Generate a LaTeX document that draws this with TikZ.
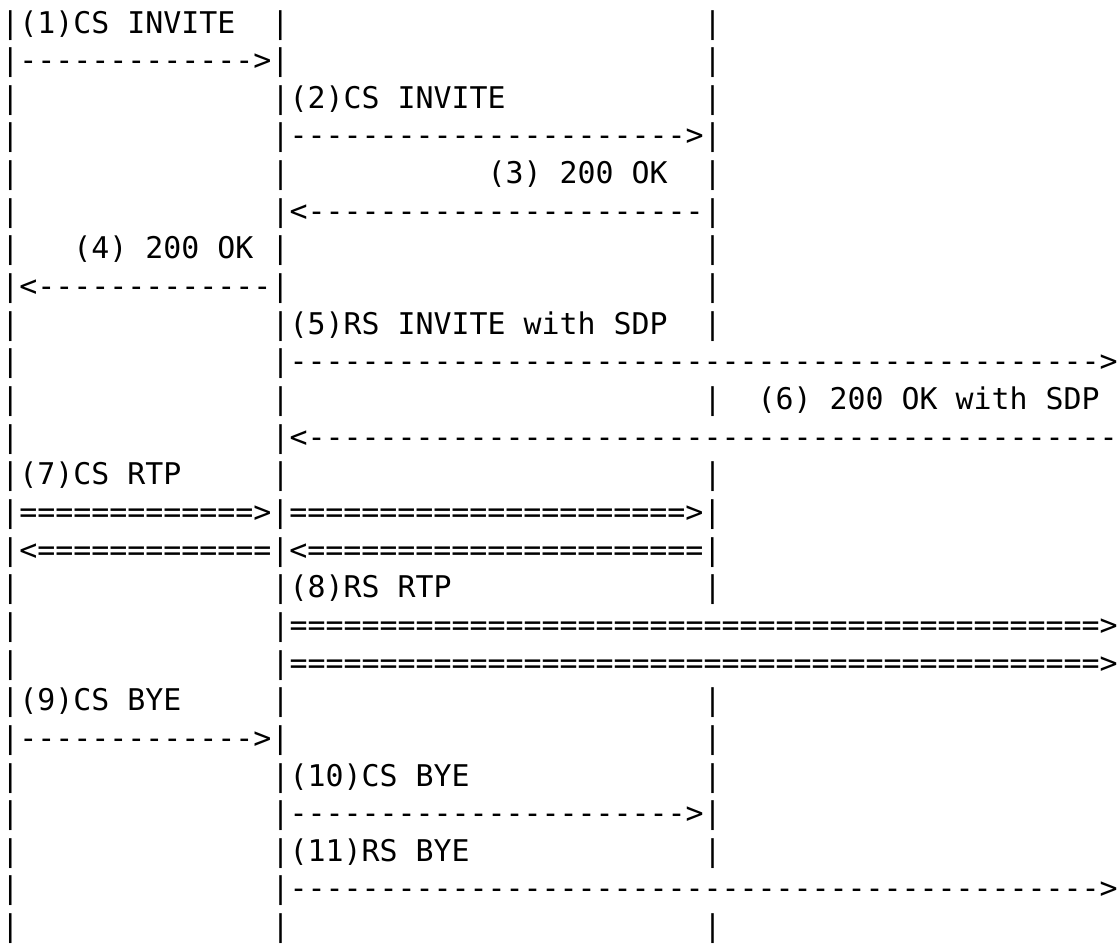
\documentclass[tikz,border=0pt]{standalone}
\usepackage{fontspec}
\newfontfamily\zzmono[Ligatures={TeXOff,CommonOff}]{DejaVu Sans Mono}
\ExplSyntaxOn
\cs_new:Npn \zzr #1#2 { \prg_replicate:nn {#1} {#2} }
\ExplSyntaxOff
\begin{document}
\begin{tikzpicture}[x=1pt,y=1pt,
  ln/.style={anchor=base west, inner sep=0pt, outer sep=0pt,
    font=\zzmono\fontsize{29.9pt}{37.65pt}\selectfont\frenchspacing}]
\fill[white] (0,0) rectangle (1117,-945);
\useasboundingbox (0,0) rectangle (1117,-945);
\node[ln] (l1)  at (1.5,-33)     {|(1)CS~INVITE~~|\zzr{23}{~}|};
\node[ln] (l2)  at (1.5,-70.65)  {|\zzr{13}{-}>|\zzr{23}{~}|};
\node[ln] (l3)  at (1.5,-108.3)  {|\zzr{14}{~}|(2)CS~INVITE\zzr{11}{~}|};
\node[ln] (l4)  at (1.5,-145.95) {|\zzr{14}{~}|\zzr{22}{-}>|};
\node[ln] (l5)  at (1.5,-183.6)  {|\zzr{14}{~}|\zzr{11}{~}(3)~200~OK~~|};
\node[ln] (l6)  at (1.5,-221.25) {|\zzr{14}{~}|<\zzr{22}{-}|};
\node[ln] (l7)  at (1.5,-258.9)  {|~~~(4)~200~OK~|\zzr{23}{~}|};
\node[ln] (l8)  at (1.5,-296.55) {|<\zzr{13}{-}|\zzr{23}{~}|};
\node[ln] (l9)  at (1.5,-334.2)  {|\zzr{14}{~}|(5)RS~INVITE~with~SDP~~|};
\node[ln] (l10) at (1.5,-371.85) {|\zzr{14}{~}|\zzr{45}{-}>};
\node[ln] (l11) at (1.5,-409.5)  {|\zzr{14}{~}|\zzr{23}{~}|~~(6)~200~OK~with~SDP};
\node[ln] (l12) at (1.5,-447.15) {|\zzr{14}{~}|<\zzr{45}{-}};
\node[ln] (l13) at (1.5,-484.8)  {|(7)CS~RTP\zzr{5}{~}|\zzr{23}{~}|};
\node[ln] (l14) at (1.5,-522.45) {|\zzr{13}{=}>|\zzr{22}{=}>|};
\node[ln] (l15) at (1.5,-560.1)  {|<\zzr{13}{=}|<\zzr{22}{=}|};
\node[ln] (l16) at (1.5,-597.75) {|\zzr{14}{~}|(8)RS~RTP\zzr{14}{~}|};
\node[ln] (l17) at (1.5,-635.4)  {|\zzr{14}{~}|\zzr{45}{=}>};
\node[ln] (l18) at (1.5,-673.05) {|\zzr{14}{~}|\zzr{45}{=}>};
\node[ln] (l19) at (1.5,-710.7)  {|(9)CS~BYE\zzr{5}{~}|\zzr{23}{~}|};
\node[ln] (l20) at (1.5,-748.35) {|\zzr{13}{-}>|\zzr{23}{~}|};
\node[ln] (l21) at (1.5,-786)    {|\zzr{14}{~}|(10)CS~BYE\zzr{13}{~}|};
\node[ln] (l22) at (1.5,-823.65) {|\zzr{14}{~}|\zzr{22}{-}>|};
\node[ln] (l23) at (1.5,-861.3)  {|\zzr{14}{~}|(11)RS~BYE\zzr{13}{~}|};
\node[ln] (l24) at (1.5,-898.95) {|\zzr{14}{~}|\zzr{45}{-}>};
\node[ln] (l25) at (1.5,-936.6)  {|\zzr{14}{~}|\zzr{23}{~}|};
\end{tikzpicture}
\end{document}
